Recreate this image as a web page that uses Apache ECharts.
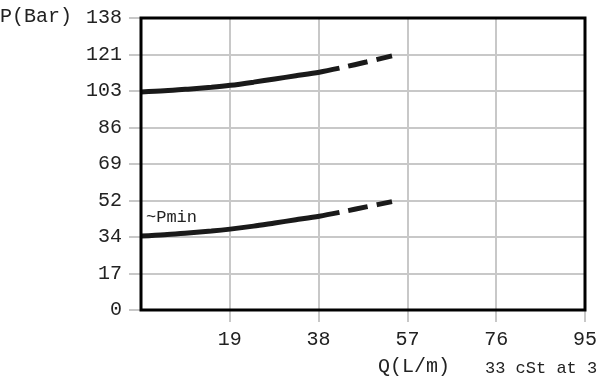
<!DOCTYPE html>
<html>
<head>
<meta charset="utf-8">
<script src="https://cdn.jsdelivr.net/npm/echarts@6/dist/echarts.min.js"></script>
<style>html,body{margin:0;padding:0;background:#fff}#c{width:600px;height:380px}</style>
</head>
<body>
<div id="c"></div>
<script>
// Tick labels (psi/GPM conversions shown rounded)
const xTickLabels = ['0', '19', '38', '57', '76', '95'];
const yTickLabels = ['0', '17', '34', '52', '69', '86', '103', '121', '138'];
const xStep = 18.927;   // L/m per tick
const yStep = 17.2369;  // bar per tick

// Upper curve (nominal pressure)
const upperSolidQ = [0, 5, 10, 15, 19, 24, 28.5, 33, 38, 42.3];
const upperSolidP = [103, 103.5, 104.3, 105.2, 106.1, 107.6, 109.1, 110.6, 112.3, 114.2];
const upperDashQ = [42.3, 48, 53.5];
const upperDashP = [114.2, 117.1, 120];

// Lower curve (~Pmin)
const lowerSolidQ = [0, 5, 10, 15, 19, 24, 28.5, 33, 38, 42.3];
const lowerSolidP = [34.9, 35.5, 36.4, 37.3, 38.2, 39.6, 41.1, 42.6, 44.3, 46.1];
const lowerDashQ = [42.3, 48, 53.5];
const lowerDashP = [46.1, 48.7, 51.2];

const pair = (q, p) => q.map((v, i) => [v, p[i]]);
const FONT = "'Liberation Mono', 'DejaVu Sans Mono', monospace";
const lineColor = '#1a1a1a';

const chart = echarts.init(document.getElementById('c'));
const solid = (data) => ({
  type: 'line', data, smooth: 0.3, symbol: 'none',
  lineStyle: { color: lineColor, width: 5, cap: 'butt' }, z: 5
});
const dashed = (data) => ({
  type: 'line', data, smooth: 0.3, symbol: 'none',
  lineStyle: { color: lineColor, width: 5, type: [20, 9], dashOffset: 20, cap: 'butt' }, z: 5
});

chart.setOption({
  animation: false,
  grid: { left: 141, right: 15, top: 18, bottom: 70, show: true, borderColor: '#000', borderWidth: 3, z: 10 },
  xAxis: {
    type: 'value', min: 0, max: xStep * 5, interval: xStep,
    axisLine: { show: false },
    axisTick: { show: true, length: 12, lineStyle: { color: '#c8c8c8', width: 2 } },
    splitLine: { show: true, lineStyle: { color: '#c8c8c8', width: 2 } },
    axisLabel: { margin: 20, fontSize: 20, fontFamily: FONT, color: '#222', showMinLabel: false,
      formatter: (v) => (v === 0 ? '' : (xTickLabels[Math.round(v / xStep)] ?? '')) }
  },
  yAxis: {
    type: 'value', min: 0, max: yStep * 8, interval: yStep,
    axisLine: { show: false },
    axisTick: { show: true, length: 12, lineStyle: { color: '#c8c8c8', width: 2 } },
    splitLine: { show: true, lineStyle: { color: '#c8c8c8', width: 2 } },
    axisLabel: { margin: 19, fontSize: 20, fontFamily: FONT, color: '#222',
      formatter: (v) => yTickLabels[Math.round(v / yStep)] ?? '' }
  },
  series: [
    solid(pair(upperSolidQ, upperSolidP)),
    dashed(pair(upperDashQ, upperDashP)),
    solid(pair(lowerSolidQ, lowerSolidP)),
    dashed(pair(lowerDashQ, lowerDashP))
  ],
  graphic: [
    { type: 'text', left: 0, top: 7, style: { text: 'P(Bar)', font: '20px ' + FONT, fill: '#222' } },
    { type: 'text', left: 378, top: 357, style: { text: 'Q(L/m)', font: '20px ' + FONT, fill: '#222' } },
    { type: 'text', left: 485, top: 360, style: { text: '33 cSt at 3', font: '17px ' + FONT, fill: '#222' } },
    { type: 'text', left: 146, top: 209, z: 20, style: { text: '~Pmin', font: '17px ' + FONT, fill: '#222' } }
  ]
});
</script>
</body>
</html>
